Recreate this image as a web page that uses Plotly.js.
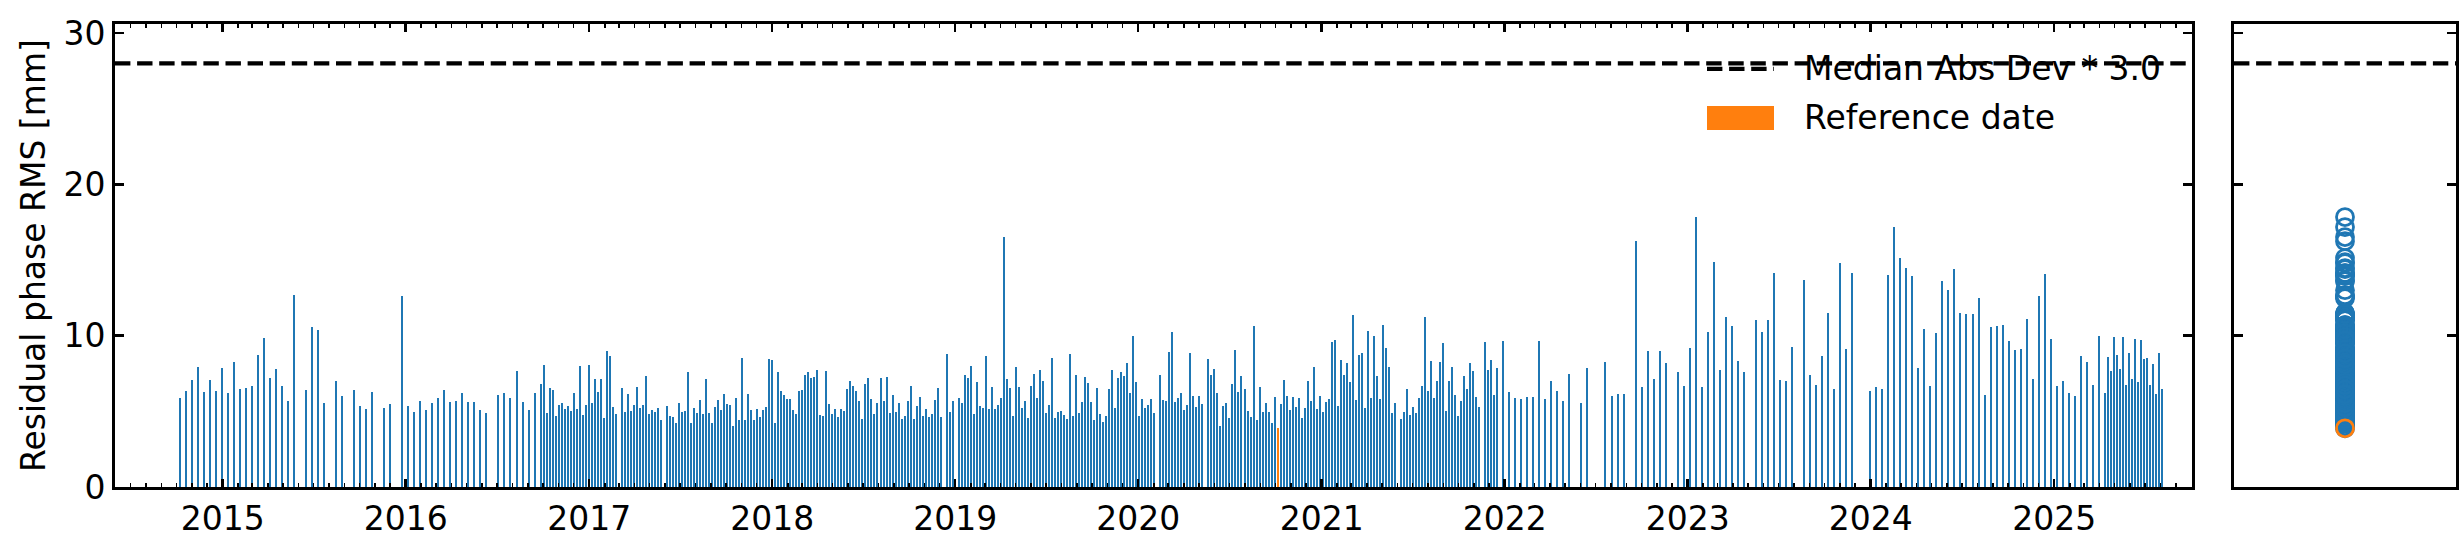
<!DOCTYPE html>
<html>
<head>
<meta charset="utf-8">
<script src="https://cdn.plot.ly/plotly-3.0.1.min.js"></script>
<style>
html,body{margin:0;padding:0;background:#fff;}
#chart{width:2461px;height:550px;}
#chart .barlayer path{shape-rendering:crispEdges;}
</style>
</head>
<body>
<div id="chart"></div>
<script>
// Acquisition dates, as days since 2015-01-01
const dayOffsets = [
-86,-74,-62,-50,-38,-26,-14,-2,10,22,34,46,58,70,82,94,106,118,130,142,166,178,190,202,226,238,262,274,286,298,322,334,358,370,
382,394,406,418,430,442,454,466,478,490,502,514,526,550,562,574,586,598,610,622,634,
640,646,652,658,664,670,676,682,688,694,700,706,712,718,724,730,736,742,748,754,760,766,772,778,784,
796,802,808,814,820,826,832,838,844,850,856,862,868,874,
886,892,898,904,910,916,922,928,934,940,946,952,958,964,970,
976,982,988,994,1000,1006,1012,1018,1024,1030,1036,1042,1048,1054,1060,1066,1072,1078,1084,1090,1096,1102,1108,1114,1120,1126,1132,1138,1144,1150,1156,1162,1168,1174,1180,1186,1192,1198,1204,1210,1216,1222,1228,1234,1240,1246,1252,1258,1264,1270,1276,1282,1288,1294,1300,1306,1312,1318,1324,1330,1336,1342,1348,1354,1360,1366,1372,1378,1384,1390,1396,1402,1408,1414,1420,1426,1432,
1444,1450,1456,1468,1474,1480,1486,1492,1498,1504,1510,1516,1522,1528,1534,1540,1546,1552,1558,1564,
1570,1576,1582,1588,1594,1600,1606,1612,1618,1624,1630,1636,1642,1648,1654,1660,1666,1672,1678,1684,1690,1696,1702,1708,1714,1720,1726,1732,1738,1744,1750,1756,1762,1768,1774,1780,1786,1792,1798,1804,1810,1816,1822,1828,1834,1840,1846,1852,1858,
1870,1876,1882,1888,1894,1900,1906,1912,1918,1924,1930,1936,1942,1948,1954,
1966,1972,1978,1984,1990,1996,2002,2008,2014,2020,2026,2032,2038,2044,2050,2056,2062,2068,2074,2080,2086,2092,2098,2104,2110,2116,2122,2128,2134,2140,2146,2152,2158,2164,
2170,2176,2182,2188,2194,2200,2206,2212,2218,2224,2230,2236,2242,2248,2254,2260,2266,2272,2278,2284,2290,2296,2302,2308,2314,2320,2326,2332,2338,
2350,2356,2362,2368,2374,2380,2386,2392,2398,2404,2410,2416,2422,2428,2434,2440,2446,2452,2458,2464,2470,2476,2482,2488,2494,2500,2506,
2518,2524,2530,2536,2542,2554,
2566,2578,2590,2602,2614,2626,2638,2650,2662,2674,2686,2710,2722,2758,
2770,2782,2794,2818,2830,2842,2854,2866,2878,2902,2914,2926,2938,2950,2962,2974,2986,2998,3010,3022,3034,3058,3070,3082,3094,3106,3118,3130,3154,3166,3178,3190,3202,3214,3226,3238,3250,3286,3298,3310,3322,3334,3346,3358,
3370,3382,3394,3406,3418,3430,3442,3454,3466,3478,3490,3502,3514,3526,3538,3550,3562,3574,3586,3598,3610,3622,3634,3646,3658,3670,3682,3694,3706,3718,3730,3742,
3754,3760,3766,3772,3778,3784,3790,3796,3802,3808,3814,3820,3826,3832,3838,3844,3850,3856,3862,3868
];

// Residual phase RMS [mm] for each acquisition
const rmsValues = [
5.87,6.33,7.06,7.92,6.26,7.06,6.33,7.85,6.20,8.25,6.46,6.53,6.66,8.71,9.83,7.19,7.78,6.66,5.67,12.68,6.39,10.56,10.36,5.53,6.99,6.00,6.39,5.34,5.14,6.26,5.20,5.47,12.61,5.34,
4.94,5.67,5.07,5.53,5.87,6.39,5.60,5.67,6.20,5.60,5.60,5.07,4.87,6.06,6.20,5.87,7.65,5.60,5.07,6.20,6.79,
8.05,4.87,6.53,6.39,4.67,5.40,5.53,5.14,5.34,5.01,6.20,5.14,7.98,4.74,5.40,8.05,5.53,7.12,6.26,7.12,4.54,8.97,8.64,5.27,4.81,
6.53,4.94,6.13,5.01,5.40,6.59,5.20,5.40,7.32,4.81,5.07,4.94,5.20,4.41,
5.34,4.67,4.61,4.21,5.53,4.94,5.01,7.59,4.21,5.20,4.87,5.73,4.81,7.12,4.87,
4.21,5.27,5.73,5.07,6.13,5.47,5.40,4.01,5.87,4.41,8.51,4.41,6.13,5.07,4.41,5.14,4.61,5.07,5.27,8.45,8.38,4.21,7.59,6.33,6.06,5.80,5.80,5.07,4.81,6.33,6.39,7.39,7.59,7.19,7.25,7.72,4.74,4.67,7.65,5.47,4.81,5.14,4.61,5.14,5.01,6.46,6.99,6.66,6.33,5.67,4.48,6.79,7.19,5.80,4.81,5.53,7.19,5.67,7.25,4.87,6.06,4.94,5.53,4.48,4.67,5.67,6.66,4.48,5.34,5.93,4.67,5.14,4.61,4.81,5.73,6.53,4.61,
8.78,4.94,5.67,5.87,5.53,7.39,7.19,7.98,4.81,6.92,5.34,5.20,8.64,5.14,6.59,5.14,5.40,5.87,16.52,7.12,
6.53,4.67,7.92,6.59,5.20,5.67,4.54,6.66,7.45,5.87,7.72,6.99,4.87,5.40,8.51,4.54,4.94,5.01,4.74,4.48,8.78,4.67,7.39,4.87,5.60,7.25,6.86,5.60,4.41,6.53,4.81,4.28,4.67,6.46,7.72,5.20,7.19,7.59,7.32,8.18,6.20,9.97,6.92,4.67,5.80,5.20,5.40,5.80,4.87,
7.39,5.73,5.67,8.91,10.23,5.60,5.87,6.20,5.07,5.40,8.84,6.00,5.27,6.00,5.47,
8.45,7.39,7.78,6.20,4.01,5.34,5.53,4.54,6.79,9.04,6.26,7.32,6.46,5.01,4.61,10.63,4.41,6.59,4.94,5.53,4.94,4.21,5.93,3.88,5.47,7.06,6.00,5.07,5.93,5.27,5.87,4.54,5.20,6.99,
5.67,7.92,5.14,6.00,4.94,5.60,5.80,9.57,9.70,5.34,8.38,7.39,8.18,6.92,11.36,5.73,8.71,8.84,5.20,10.30,5.87,9.97,7.32,5.80,10.69,9.17,7.92,4.87,5.53,
4.48,4.94,6.46,4.74,5.27,4.87,5.87,6.66,11.22,6.33,8.31,5.87,6.99,8.25,9.50,5.01,6.99,7.92,6.06,4.67,5.67,7.32,6.46,8.18,7.65,5.93,5.27,
9.57,7.72,8.38,6.06,7.85,9.64,
6.26,5.87,5.80,5.93,5.93,9.64,5.80,6.99,6.33,5.67,7.45,5.53,7.85,8.25,
6.00,6.13,6.13,16.25,6.59,8.97,7.12,8.97,8.18,7.59,6.66,9.17,17.84,6.59,10.23,14.86,7.72,11.22,10.63,8.31,7.59,11.03,10.23,11.03,14.13,7.06,6.99,9.24,13.67,7.39,6.73,8.64,11.49,6.46,14.80,9.11,14.13,6.33,6.59,6.46,14.00,17.18,15.13,14.47,
13.94,7.85,10.43,6.66,10.17,13.61,13.01,14.40,11.49,11.42,11.42,12.48,6.06,10.56,10.63,10.69,9.64,9.04,9.11,11.09,7.12,12.61,14.07,9.77,6.66,6.99,6.20,6.00,8.64,8.25,6.73,9.97,
6.20,8.58,7.65,9.90,8.71,7.78,9.90,6.73,8.84,7.12,9.77,6.92,9.70,8.45,8.51,6.73,8.11,6.13,8.84,6.46
];

const referenceDay = 2104;          // reference date (orange)
const madThreshold = 28.0;          // Median Abs Dev * 3.0
const legendLabels = ['Median Abs Dev * 3.0', 'Reference date'];

const C_BLUE = '#1f77b4', C_ORANGE = '#ff7f0e';
const EPOCH = Date.UTC(2015, 0, 1);
const DAY = 86400000;
const toDate = d => new Date(EPOCH + d * DAY).toISOString().slice(0, 10);

const dates = dayOffsets.map(toDate);
const refIndex = dayOffsets.indexOf(referenceDay);
const barColors = dayOffsets.map(d => d === referenceDay ? C_ORANGE : C_BLUE);

// pixel helpers for the (manual) legend placement
const W = 2461, H = 550, ML = 115, MR = 5, MT = 24, MB = 63;
const PW = W - ML - MR, PH = H - MT - MB;
const px = x => (x - ML) / PW;
const py = y => (H - MB - y) / PH;

const traces = [
  {
    type: 'bar', x: dates, y: rmsValues, width: 4 * DAY,
    marker: {color: barColors, line: {width: 0}},
    xaxis: 'x', yaxis: 'y', showlegend: false, hoverinfo: 'skip'
  },
  {
    type: 'scatter', mode: 'markers', x: rmsValues.map(() => 0), y: rmsValues,
    marker: {symbol: 'circle-open', size: 17, color: C_BLUE, line: {width: 2.8, color: C_BLUE}},
    xaxis: 'x2', yaxis: 'y2', showlegend: false, hoverinfo: 'skip'
  },
  {
    type: 'scatter', mode: 'markers', x: [0], y: [rmsValues[refIndex]],
    marker: {symbol: 'circle-open', size: 17, color: C_ORANGE, line: {width: 2.8, color: C_ORANGE}},
    xaxis: 'x2', yaxis: 'y2', showlegend: false, hoverinfo: 'skip'
  }
];

const dashStyle = '15.4px,6.7px';
const axisCommon = {
  showline: true, linecolor: 'black', linewidth: 3, mirror: 'ticks',
  ticks: 'inside', tickcolor: 'black', showgrid: false, zeroline: false, automargin: false
};
const tickFont = {family: 'DejaVu Sans', size: 33, color: 'black'};

const layout = {
  width: W, height: H,
  margin: {l: ML, r: MR, t: MT, b: MB, pad: 0},
  paper_bgcolor: 'white', plot_bgcolor: 'white',
  font: {family: 'DejaVu Sans', size: 33, color: 'black'},
  showlegend: false,
  bargap: 0,
  xaxis: Object.assign({}, axisCommon, {
    type: 'date', domain: [0, (2192 - ML) / PW], anchor: 'y',
    range: ['2014-05-31 05:00', '2025-10-02 19:00'],
    dtick: 'M12', tick0: '2015-01-01', tickformat: '%Y',
    ticklen: 8, tickwidth: 2.5, ticklabelstandoff: 0,
    tickfont: tickFont,
    minor: {ticks: 'inside', ticklen: 4, tickwidth: 1.6, tickcolor: 'black', dtick: 'M1', tick0: '2015-01-01', showgrid: false}
  }),
  yaxis: Object.assign({}, axisCommon, {
    domain: [0, 1], anchor: 'x', range: [0, 30.6], dtick: 10, tick0: 0,
    ticklen: 9, tickwidth: 2.5, ticklabelstandoff: 0,
    tickfont: tickFont,
    title: {text: 'Residual phase RMS [mm]', font: {family: 'DejaVu Sans', size: 33, color: 'black'}, standoff: 8}
  }),
  xaxis2: Object.assign({}, axisCommon, {
    domain: [(2234 - ML) / PW, 1], anchor: 'y2', range: [-1, 1],
    ticks: '', showticklabels: false, mirror: true
  }),
  yaxis2: Object.assign({}, axisCommon, {
    domain: [0, 1], anchor: 'x2', range: [0, 30.6], dtick: 10, tick0: 0,
    ticklen: 9, tickwidth: 2.5, showticklabels: false
  }),
  shapes: [
    {type: 'line', xref: 'x domain', yref: 'y', x0: 0, x1: 1, y0: madThreshold, y1: madThreshold,
     line: {color: 'black', width: 4.2, dash: dashStyle}},
    {type: 'line', xref: 'x2 domain', yref: 'y2', x0: 0, x1: 1, y0: madThreshold, y1: madThreshold,
     line: {color: 'black', width: 4.2, dash: dashStyle}},
    // legend handles
    {type: 'line', xref: 'paper', yref: 'paper', x0: px(1707), x1: px(1774), y0: py(68.8), y1: py(68.8),
     line: {color: 'black', width: 4.2, dash: dashStyle}},
    {type: 'rect', xref: 'paper', yref: 'paper', x0: px(1707), x1: px(1774), y0: py(130), y1: py(106),
     fillcolor: C_ORANGE, line: {width: 0}}
  ],
  annotations: [
    {xref: 'paper', yref: 'paper', x: px(1802), y: py(68.5), xanchor: 'left', yanchor: 'middle',
     text: legendLabels[0], showarrow: false, font: {family: 'DejaVu Sans', size: 33, color: 'black'}},
    {xref: 'paper', yref: 'paper', x: px(1802), y: py(117.5), xanchor: 'left', yanchor: 'middle',
     text: legendLabels[1], showarrow: false, font: {family: 'DejaVu Sans', size: 33, color: 'black'}}
  ]
};

Plotly.newPlot('chart', traces, layout, {staticPlot: true, displayModeBar: false});
</script>
</body>
</html>
